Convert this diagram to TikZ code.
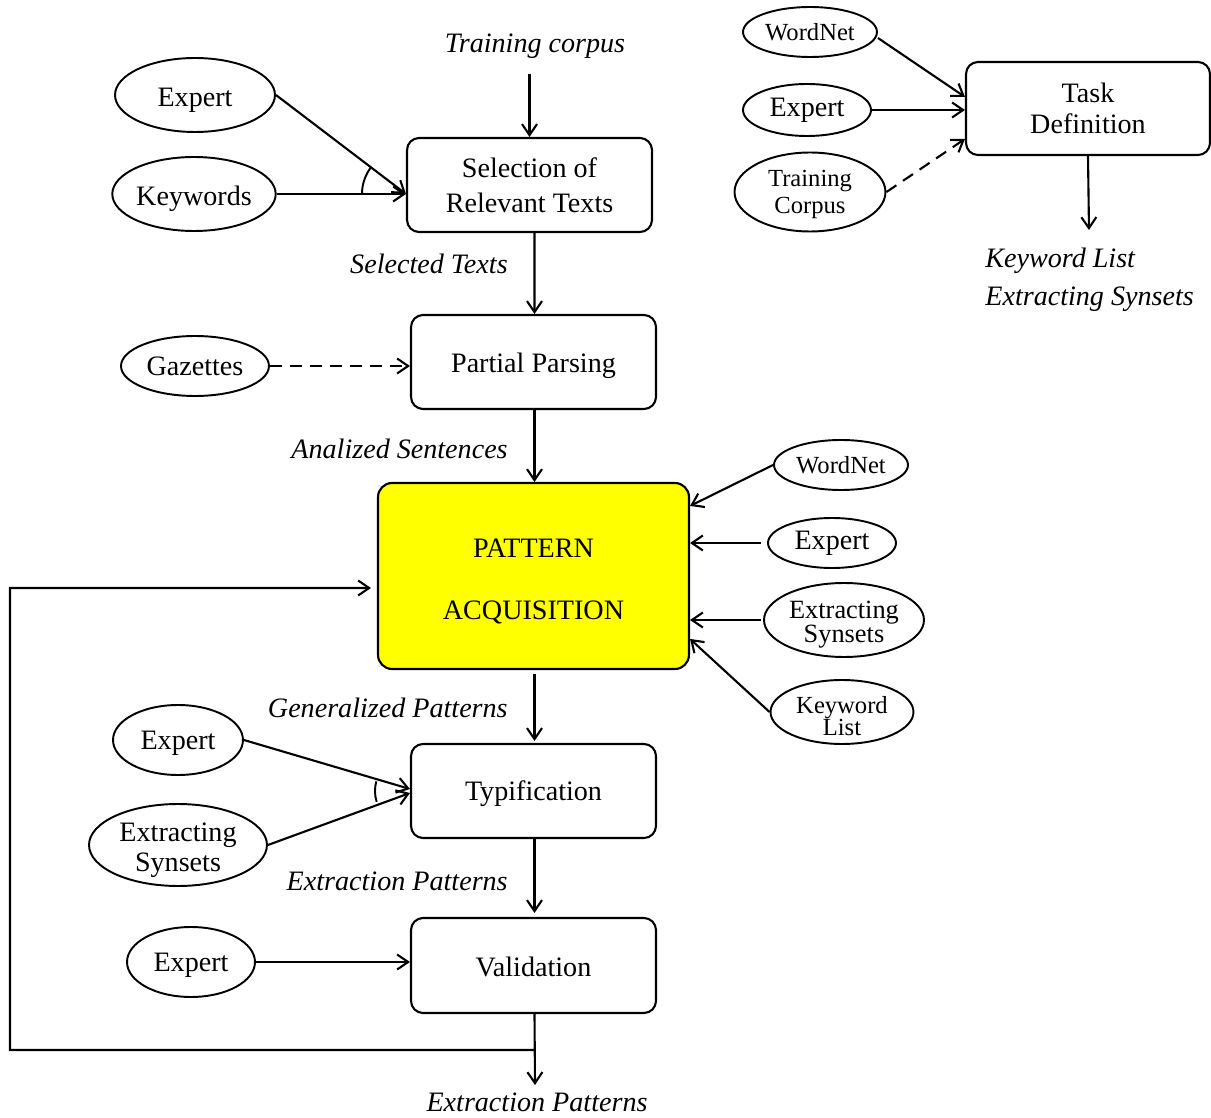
\documentclass[tikz,border=0pt]{standalone}
\usepackage{fontspec}
\setmainfont{Liberation Serif}
\usetikzlibrary{arrows.meta,shapes.geometric,calc}
\definecolor{paYellow}{RGB}{255,255,0}
\newcommand\lowr[2]{\raisebox{-#1}[\height][\depth]{#2}}
\tikzset{
  box/.style={draw, rounded corners=0.24cm, minimum width=4.9cm, minimum height=1.88cm, line width=1.2pt, align=center, inner sep=0pt, font=\fontsize{16}{20}\selectfont},
  ell/.style={draw, ellipse, inner sep=0pt, line width=1.1pt, align=center, font=\fontsize{16}{17}\selectfont},
  sml/.style={font=\fontsize{14}{13.5}\selectfont},
  lab/.style={inner sep=0pt, font=\fontsize{16}{19}\selectfont\itshape},
  conn/.style={line width=1.2pt, -{Straight Barb[length=0.22cm,width=0.3cm]}},
  dconn/.style={conn, dash pattern=on 0.24cm off 0.16cm},
  plain/.style={line width=1.1pt}
}
\begin{document}
\begin{tikzpicture}[x=0.02cm, y=-0.02cm]
\useasboundingbox (0,0) rectangle (1211,1118);

% main column
\node[lab] (tclab) at (535,46) {Training corpus};
\node[box] (sel) at (529.5,185) {Selection of\\Relevant Texts};
\node[box] (part) at (533.5,362) {\lowr{2.3pt}{Partial Parsing}};
\node[box, fill=paYellow, minimum width=6.22cm, minimum height=3.72cm, rounded corners=0.28cm, font=\fontsize{16}{35}\selectfont] (pa) at (533.5,576) {\lowr{3pt}{PATTERN}\\\lowr{3pt}{ACQUISITION}};
\node[box] (typ) at (533.5,791) {\lowr{1.7pt}{Typification}};
\node[box, minimum height=1.9cm] (val) at (533.5,965.5) {\lowr{1.1pt}{Validation}};

\node[lab, anchor=east] (l1) at (508,264) {Selected Texts};
\node[lab, anchor=east] (l2) at (508,449) {Analized Sentences};
\node[lab, anchor=east] (l3) at (508,708) {Generalized Patterns};
\node[lab, anchor=east] (l4) at (508,881) {Extraction Patterns};
\node[lab] (l5) at (537,1102) {Extraction Patterns};

% left ellipses
\node[ell, minimum width=3.2cm, minimum height=1.48cm] (exp1) at (195,95) {\lowr{2.8pt}{Expert}};
\node[ell, minimum width=3.26cm, minimum height=1.48cm] (kw) at (194,194) {\lowr{2.8pt}{Keywords}};
\node[ell, minimum width=2.96cm, minimum height=1.2cm] (gaz) at (195,366) {Gazettes};
\node[ell, minimum width=2.6cm, minimum height=1.4cm] (exp2) at (178,740) {\lowr{1.7pt}{Expert}};
\node[ell, minimum width=3.56cm, minimum height=1.64cm] (ext2) at (178,845) {\lowr{2.8pt}{Extracting}\\\lowr{2.8pt}{Synsets}};
\node[ell, minimum width=2.56cm, minimum height=1.4cm] (exp3) at (191,962) {\lowr{1.7pt}{Expert}};

% right ellipses
\node[ell, sml, minimum width=2.68cm, minimum height=1.0cm] (wn2) at (841,465) {WordNet};
\node[ell, minimum width=2.56cm, minimum height=1.0cm] (exp4) at (832,543) {Expert};
\node[ell, font=\fontsize{15}{13.5}\selectfont, minimum width=3.2cm, minimum height=1.48cm] (ext4) at (844,620) {\lowr{2.8pt}{Extracting}\\\lowr{2.8pt}{Synsets}};
\node[ell, font=\fontsize{14}{12.5}\selectfont, minimum width=2.86cm, minimum height=1.28cm] (kl4) at (842,712) {\lowr{2.3pt}{Keyword}\\\lowr{2.3pt}{List}};

% top right
\node[ell, sml, minimum width=2.68cm, minimum height=1.0cm] (wn1) at (810,32) {WordNet};
\node[ell, minimum width=2.56cm, minimum height=1.04cm] (exp5) at (807,110) {Expert};
\node[ell, font=\fontsize{14}{15.3}\selectfont, minimum width=3.02cm, minimum height=1.58cm] (tcorp) at (810,192) {\lowr{1.4pt}{Training}\\\lowr{1.4pt}{Corpus}};
\node[box, minimum width=4.88cm, minimum height=1.86cm, font=\fontsize{16}{17.6}\selectfont] (task) at (1088,108.5) {Task\\Definition};
\node[lab, anchor=west] (o1) at (985,261) {Keyword List};
\node[lab, anchor=west] (o2) at (985,299) {Extracting Synsets};

% coordinates
\coordinate (selpt) at (sel.west |- kw);
\coordinate (tipA) at ([yshift=0.04cm]typ.west);
\coordinate (tipB) at ([yshift=-0.04cm]typ.west);
\coordinate (junc) at (535,1050);
\coordinate (lc1) at (10,1050);
\coordinate (lc2) at (10,588);
\coordinate (outc) at (535,1085);
\coordinate (taskout) at (1089,230);

% main flow
\draw[conn] ([yshift=-0.3cm]sel.north |- tclab.south) -- (sel.north);
\draw[conn] ([xshift=0.1cm]sel.south) -- ([xshift=0.02cm]part.north);
\draw[conn] ([xshift=0.02cm]part.south) -- ([xshift=0.02cm]pa.north);
\draw[conn] ([xshift=0.02cm,yshift=-0.08cm]pa.south) -- ([xshift=0.02cm,yshift=0.04cm]typ.north);
\draw[conn] ([xshift=0.02cm]typ.south) -- ([xshift=0.02cm,yshift=0.08cm]val.north);
\draw[conn] ([xshift=0.02cm]val.south) -- (outc);
\draw[conn, line join=miter] (junc) -- (lc1) -- (lc2) -- ([xshift=-0.12cm,yshift=-0.24cm]pa.west);

% left inputs
\draw[conn] (exp1.east) -- (selpt);
\draw[conn] (kw.east) -- (selpt);
\draw[plain] ([shift={(180:0.88cm)}]selpt) arc[start angle=180, end angle=142, radius=0.88cm];
\draw[dconn] (gaz.east) -- (gaz.east -| part.west);
\draw[conn] (exp2.east) -- (tipA);
\draw[conn] (ext2.east) -- (tipB);
\draw[plain] ([shift={(164:0.7cm)}]typ.west) arc[start angle=164, end angle=198, radius=0.7cm];
\draw[conn] (exp3.east) -- (exp3.east -| val.west);

% right inputs
\draw[conn] (wn2.west) -- ([yshift=-0.48cm]pa.north east);
\draw[conn] ([xshift=-0.12cm]exp4.west) -- (exp4.west -| pa.east);
\draw[conn] ([xshift=-0.04cm]ext4.west) -- (ext4.west -| pa.east);
\draw[conn] (kl4.west) -- ([yshift=-3.14cm]pa.north east);

% top right
\draw[conn] ([yshift=-0.12cm]wn1.east) -- ([yshift=-0.72cm]task.north west);
\draw[conn] (exp5.east) -- (exp5.east -| task.west);
\draw[dconn] (tcorp.east) -- ([yshift=-1.56cm]task.north west);
\draw[conn] (task.south) -- (taskout);
\end{tikzpicture}
\end{document}
